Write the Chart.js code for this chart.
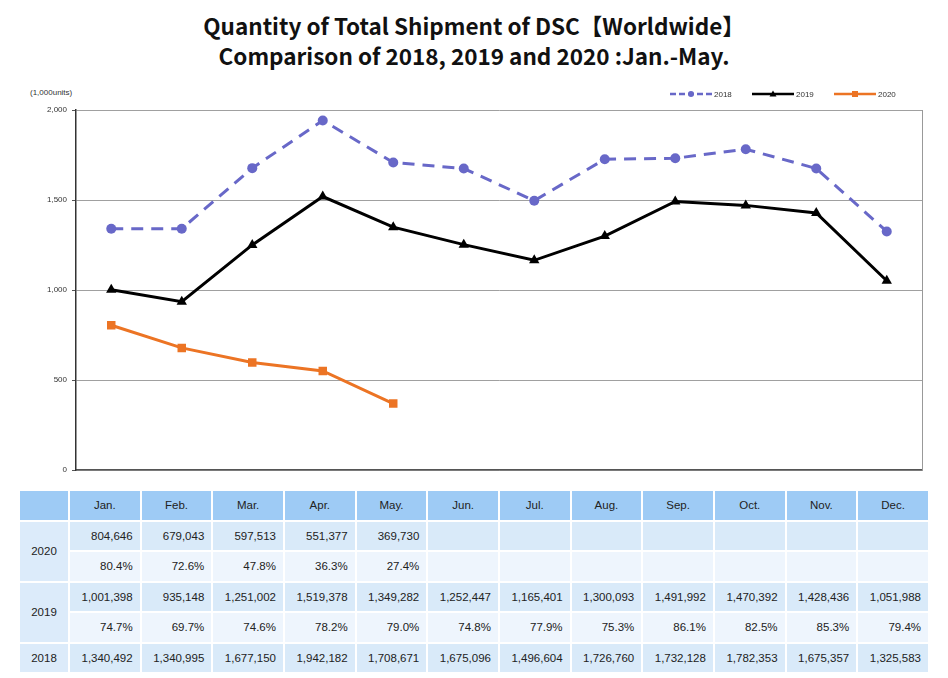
<!DOCTYPE html>
<html>
<head>
<meta charset="utf-8">
<script src="https://cdn.jsdelivr.net/npm/chart.js@4/dist/chart.umd.min.js"></script>
<style>
    body { margin: 0; width: 948px; height: 678px; background: #fff; position: relative; overflow: hidden; font-family: "Liberation Sans", Arial, sans-serif; }
    #title { position: absolute; left: 0; top: 10px; width: 948px; text-align: center; font-family: "Noto Sans CJK JP", "DejaVu Sans", sans-serif; font-weight: bold; font-size: 22.5px; line-height: 30px; color: #111; }
    #chartBox { position: absolute; left: 0; top: 80px; width: 948px; height: 400px; }
    #unit { position: absolute; left: 30px; top: 88px; font-size: 8px; color: #333; }
    #dataTable { position: absolute; left: 18px; top: 489px; width: 912px; table-layout: fixed; border-collapse: separate; border-spacing: 2px; font-size: 11.5px; color: #222; }
    #dataTable td { height: 28.5px; padding: 0 7px 0 0; text-align: right; background: #d9eaf9; overflow: hidden; white-space: nowrap; }
    #dataTable tr.pct td { background: #eef5fd; }
    #dataTable tr.head td { background: #9ecbf5; text-align: center; padding: 0; }
    #dataTable td.year { text-align: center; background: #dcebfa; padding: 0; }
</style>
</head>
<body>
<div id="title">Quantity of Total Shipment of DSC【Worldwide】<br>Comparison of 2018, 2019 and 2020 :Jan.-May.</div>
<div id="unit">(1,000units)</div>
<div id="chartBox"><canvas id="shipChart"></canvas></div>
<table id="dataTable"></table>
<script>
// monthly shipments (units)
const months = ['Jan.', 'Feb.', 'Mar.', 'Apr.', 'May.', 'Jun.', 'Jul.', 'Aug.', 'Sep.', 'Oct.', 'Nov.', 'Dec.'];
const units2018 = [1340492, 1340995, 1677150, 1942182, 1708671, 1675096, 1496604, 1726760, 1732128, 1782353, 1675357, 1325583];
const units2019 = [1001398, 935148, 1251002, 1519378, 1349282, 1252447, 1165401, 1300093, 1491992, 1470392, 1428436, 1051988];
const units2020 = [804646, 679043, 597513, 551377, 369730];
const pct2019 = ['74.7%', '69.7%', '74.6%', '78.2%', '79.0%', '74.8%', '77.9%', '75.3%', '86.1%', '82.5%', '85.3%', '79.4%'];
const pct2020 = ['80.4%', '72.6%', '47.8%', '36.3%', '27.4%'];
const yTicks = [0, 500, 1000, 1500, 2000];

const toK = arr => arr.map(v => v / 1000);
const fmt = v => v.toLocaleString('en-US');

// legend drawn in the top-right corner like the original sheet
const lineLegend = {
    id: 'lineLegend',
    afterDraw(chart) {
        const ctx = chart.ctx;
        const xs = [670, 752, 834];
        const y = 14;
        chart.data.datasets.forEach((ds, i) => {
            const x = xs[i];
            ctx.save();
            ctx.strokeStyle = ds.borderColor;
            ctx.lineWidth = 2.5;
            ctx.setLineDash(ds.borderDash ? [6, 3] : []);
            ctx.beginPath();
            ctx.moveTo(x, y);
            ctx.lineTo(x + 42, y);
            ctx.stroke();
            ctx.setLineDash([]);
            ctx.fillStyle = ds.pointBackgroundColor;
            const cx = x + 21;
            ctx.beginPath();
            if (ds.pointStyle === 'circle') ctx.arc(cx, y, 3, 0, Math.PI * 2);
            else if (ds.pointStyle === 'triangle') { ctx.moveTo(cx, y - 3.5); ctx.lineTo(cx + 3.5, y + 2.5); ctx.lineTo(cx - 3.5, y + 2.5); }
            else ctx.rect(cx - 3, y - 3, 6, 6);
            ctx.fill();
            ctx.fillStyle = '#333';
            ctx.font = '8px "Liberation Sans", Arial, sans-serif';
            ctx.textBaseline = 'middle';
            ctx.fillText(ds.label, x + 44, y + 0.5);
            ctx.restore();
        });
    }
};

new Chart(document.getElementById('shipChart').getContext('2d'), {
    type: 'line',
    data: {
        labels: months,
        datasets: [
            { label: '2018', data: toK(units2018), borderColor: '#6868c8', backgroundColor: '#6868c8', pointBackgroundColor: '#6868c8', borderWidth: 3, borderDash: [12, 8], pointStyle: 'circle', pointRadius: 5, pointBorderWidth: 0 },
            { label: '2019', data: toK(units2019), borderColor: '#000000', backgroundColor: '#000000', pointBackgroundColor: '#000000', borderWidth: 3, pointStyle: 'triangle', pointRadius: 6, pointBorderWidth: 0 },
            { label: '2020', data: toK(units2020), borderColor: '#ec7424', backgroundColor: '#ec7424', pointBackgroundColor: '#ec7424', borderWidth: 3, pointStyle: 'rect', pointRadius: 6, pointBorderWidth: 0 }
        ]
    },
    options: {
        responsive: true,
        maintainAspectRatio: false,
        animation: false,
        layout: { padding: { left: 0, right: 26, top: 30, bottom: 8 } },
        plugins: { legend: { display: false }, tooltip: { enabled: false } },
        elements: { line: { tension: 0 } },
        scales: {
            x: {
                offset: true,
                ticks: { display: false },
                grid: { display: false, drawTicks: false },
                border: { color: '#555', width: 1.5 },
                afterFit: s => { s.height = 0; }
            },
            y: {
                min: 0, max: 2000,
                afterBuildTicks: s => { s.ticks = yTicks.map(v => ({ value: v })); },
                ticks: { font: { size: 8, family: '"Liberation Sans", Arial, sans-serif' }, color: '#333', padding: 5, callback: v => fmt(v) },
                grid: { color: '#a0a0a0', lineWidth: 1, drawTicks: true, tickLength: 4, tickColor: '#555' },
                border: { color: '#333', width: 1.5 },
                afterFit: s => { s.width = 76; }
            },
            y2: {
                position: 'right',
                min: 0, max: 2000,
                ticks: { display: false },
                grid: { display: false, drawTicks: false },
                border: { color: '#999', width: 1 },
                afterFit: s => { s.width = 0; }
            }
        }
    },
    plugins: [lineLegend]
});

// data table under the chart
const table = document.getElementById('dataTable');
let html = '<colgroup><col style="width:48px">' + months.map(() => '<col>').join('') + '</colgroup>';
html += '<tr class="head"><td class="year"></td>' + months.map(m => '<td>' + m + '</td>').join('') + '</tr>';
const cells = (arr, f) => months.map((m, i) => '<td>' + (arr[i] !== undefined ? f(arr[i]) : '') + '</td>').join('');
html += '<tr><td class="year" rowspan="2">2020</td>' + cells(units2020, fmt) + '</tr>';
html += '<tr class="pct">' + cells(pct2020, v => v) + '</tr>';
html += '<tr><td class="year" rowspan="2">2019</td>' + cells(units2019, fmt) + '</tr>';
html += '<tr class="pct">' + cells(pct2019, v => v) + '</tr>';
html += '<tr><td class="year">2018</td>' + cells(units2018, fmt) + '</tr>';
table.innerHTML = html;
</script>
</body>
</html>
